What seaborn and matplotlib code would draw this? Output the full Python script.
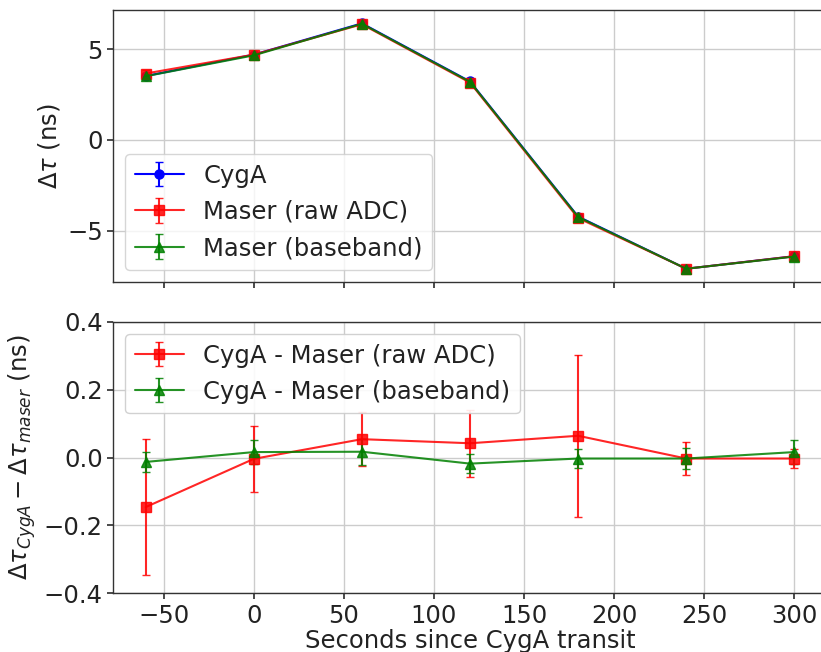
import matplotlib
matplotlib.use("Agg")
import matplotlib.pyplot as plt
import seaborn as sns

# Time offsets relative to the CygA transit (s)
seconds = [-60, 0, 60, 120, 180, 240, 300]

# Delay measurements (ns)
tau_cyga = [3.52, 4.70, 6.42, 3.22, -4.22, -7.09, -6.40]
tau_maser_raw = [3.66, 4.70, 6.37, 3.16, -4.30, -7.09, -6.40]
tau_maser_bb = [3.51, 4.66, 6.40, 3.20, -4.24, -7.09, -6.42]
err_cyga = [0.03, 0.03, 0.03, 0.03, 0.03, 0.03, 0.03]
err_maser_raw = [0.20, 0.10, 0.08, 0.10, 0.24, 0.05, 0.03]
err_maser_bb = [0.03, 0.035, 0.038, 0.027, 0.028, 0.03, 0.036]

# Differences CygA - maser (ns)
diff_raw = [-0.146, -0.004, 0.054, 0.042, 0.064, -0.003, -0.003]
diff_raw_err = [0.200, 0.098, 0.079, 0.098, 0.239, 0.048, 0.027]
diff_bb = [-0.013, 0.016, 0.017, -0.018, -0.003, -0.003, 0.016]
diff_bb_err = [0.030, 0.035, 0.038, 0.027, 0.028, 0.030, 0.036]

top_yticks = [-5, 0, 5]
bottom_yticks = [-0.4, -0.2, 0.0, 0.2, 0.4]
xticks = [-50, 0, 50, 100, 150, 200, 250, 300]

FS = 17.5

sns.set_theme(style="ticks", rc={
    "axes.grid": True,
    "grid.color": "#cccccc",
    "grid.linewidth": 1.0,
    "axes.edgecolor": "#333333",
    "axes.linewidth": 1.0,
    "xtick.color": "#333333",
    "ytick.color": "#333333",
    "xtick.labelcolor": "#222222",
    "ytick.labelcolor": "#222222",
    "xtick.major.size": 4,
    "ytick.major.size": 4,
    "axes.labelcolor": "#222222",
    "text.color": "#222222",
})
plt.rcParams["font.family"] = ["DejaVu Sans"]
plt.rcParams["font.size"] = FS

fig = plt.figure(figsize=(8.21, 6.52), dpi=100)
ax1 = fig.add_axes([0.138, 0.5675, 0.869, 0.4164])
ax2 = fig.add_axes([0.138, 0.09, 0.869, 0.4166], sharex=ax1)

kw = dict(capsize=3, lw=1.5, ms=6.5)
ax1.errorbar(seconds, tau_cyga, yerr=err_cyga, fmt="-o", color="blue", label="CygA", **kw)
ax1.errorbar(seconds, tau_maser_raw, yerr=err_maser_raw, fmt="-s", color="red",
             alpha=0.85, label="Maser (raw ADC)", **kw)
ax1.errorbar(seconds, tau_maser_bb, yerr=err_maser_bb, fmt="-^", color="green",
             alpha=0.85, label="Maser (baseband)", **kw)
ax1.set_yticks(top_yticks)
ax1.set_ylabel(r"$\Delta\tau$ (ns)", fontsize=FS)
ax1.tick_params(labelsize=FS, labelbottom=False)
ax1.legend(loc="lower left", fontsize=FS, framealpha=0.8)

ax2.errorbar(seconds, diff_raw, yerr=diff_raw_err, fmt="-s", color="red",
             alpha=0.85, label="CygA - Maser (raw ADC)", **kw)
ax2.errorbar(seconds, diff_bb, yerr=diff_bb_err, fmt="-^", color="green",
             alpha=0.85, label="CygA - Maser (baseband)", **kw)
ax2.set_ylim(-0.4, 0.4)
ax2.set_yticks(bottom_yticks)
ax2.set_ylabel(r"$\Delta\tau_{CygA} - \Delta\tau_{maser}$ (ns)", fontsize=FS)
ax2.set_xlabel("Seconds since CygA transit", fontsize=FS, labelpad=1)
ax2.set_xticks(xticks)
ax2.tick_params(labelsize=FS)
ax2.legend(loc="upper left", fontsize=FS, framealpha=0.9)

fig.savefig("out.png", dpi=100)
